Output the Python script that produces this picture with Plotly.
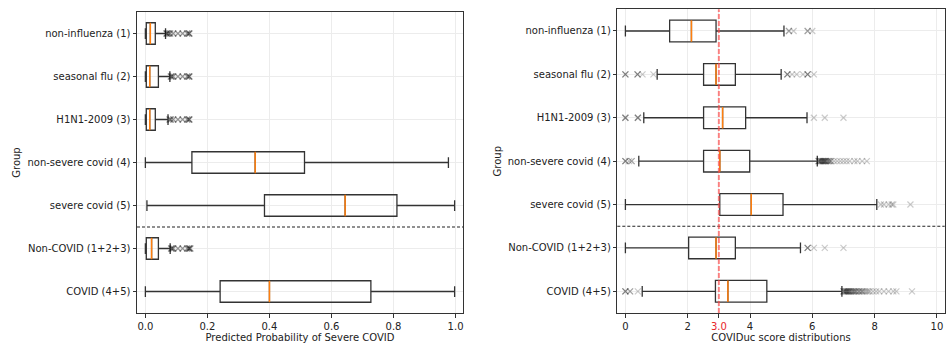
import plotly.graph_objects as go

groups = ["non-influenza (1)", "seasonal flu (2)", "H1N1-2009 (3)",
          "non-severe covid (4)", "severe covid (5)",
          "Non-COVID (1+2+3)", "COVID (4+5)"]
positions = [1, 2, 3, 4, 5, 6, 7]

# Left panel: predicted probability of severe COVID
prob_low = [0.0, 0.0, 0.0, 0.0, 0.005, 0.0, 0.0]
prob_q1 = [0.003, 0.003, 0.003, 0.150, 0.384, 0.003, 0.241]
prob_med = [0.016, 0.014, 0.014, 0.354, 0.644, 0.020, 0.400]
prob_q3 = [0.032, 0.042, 0.032, 0.513, 0.811, 0.042, 0.727]
prob_high = [0.065, 0.079, 0.073, 0.977, 0.997, 0.080, 0.997]
prob_outliers = [
    [0.068, 0.07, 0.075, 0.08, 0.09, 0.105, 0.12, 0.135, 0.14, 0.142],
    [0.082, 0.085, 0.09, 0.105, 0.12, 0.135, 0.14, 0.142],
    [0.078, 0.082, 0.09, 0.105, 0.12, 0.135, 0.14, 0.142],
    [], [],
    [0.083, 0.086, 0.09, 0.105, 0.12, 0.135, 0.14, 0.142, 0.145],
    [],
]

# Right panel: COVIDuc score distributions
score_low = [0.0, 1.02, 0.59, 0.43, 0.0, 0.0, 0.54]
score_q1 = [1.42, 2.51, 2.51, 2.51, 3.03, 2.03, 2.89]
score_med = [2.12, 2.91, 3.12, 3.03, 4.04, 2.91, 3.29]
score_q3 = [2.91, 3.53, 3.86, 3.99, 5.06, 3.53, 4.54]
score_high = [5.09, 5.00, 5.83, 6.16, 8.07, 5.62, 6.95]
score_outliers = [
    [5.25, 5.25, 5.4, 5.85, 5.85, 6.0],
    [0.0, 0.0, 0.0, 0.39, 0.39, 0.39, 0.55, 0.9, 5.2, 5.2, 5.2, 5.35, 5.5, 5.7, 5.85, 5.85, 5.85, 6.05],
    [0.0, 0.0, 0.0, 0.4, 0.4, 0.4, 6.05, 6.4, 7.0],
    [0.0, 0.0, 0.0, 0.12, 0.2, 0.2,
     6.2, 6.2, 6.22, 6.25, 6.25, 6.28, 6.3, 6.3, 6.33, 6.35, 6.35, 6.38, 6.4, 6.4, 6.42,
     6.45, 6.45, 6.5, 6.5, 6.55, 6.55, 6.6, 6.6, 6.7, 6.8, 6.9, 7.0, 7.1, 7.2, 7.35, 7.45, 7.6, 7.75],
    [8.2, 8.3, 8.45, 8.55, 8.6, 9.15],
    [5.85, 5.85, 5.85, 6.05, 6.4, 7.0],
    [0.0, 0.0, 0.0, 0.15, 0.15, 0.4,
     7.0, 7.0, 7.02, 7.05, 7.05, 7.08, 7.1, 7.1, 7.12, 7.15, 7.15, 7.18, 7.2, 7.2, 7.25, 7.25,
     7.3, 7.3, 7.35, 7.35, 7.4, 7.4, 7.45, 7.5, 7.5, 7.55, 7.6, 7.6, 7.65, 7.7, 7.75, 7.8,
     7.85, 7.95, 8.05, 8.15, 8.3, 8.45, 8.6, 8.7, 9.2],
]

score_threshold = 3.0
separator_position = 5.5

x_ticks_prob = [0.0, 0.2, 0.4, 0.6, 0.8, 1.0]
x_ticks_score = [0, 2, 3, 4, 6, 8, 10]
x_ticktext_score = ["0", "2", "<span style='color:#e8262a'>3.0</span>", "4", "6", "8", "10"]

FONT = "DejaVu Sans"
LINE = "#333333"
MEDIAN = "#ff7f0e"
FS = 10

fig = go.Figure()


def add_panel(xa, ya, low, q1, med, q3, high, outliers, opacity):
    fig.add_trace(go.Box(
        y=positions, q1=q1, median=med, q3=q3, lowerfence=low, upperfence=high,
        orientation="h", width=0.5, whiskerwidth=0.5,
        line=dict(color=LINE, width=1.3), fillcolor="rgba(0,0,0,0)",
        boxpoints=False, hoverinfo="skip", showlegend=False,
        xaxis=xa, yaxis=ya))
    fig.add_trace(go.Scatter(
        x=med, y=positions, mode="markers",
        marker=dict(symbol="line-ns", size=15.3, color=MEDIAN,
                    line=dict(color=MEDIAN, width=1.5)),
        showlegend=False, hoverinfo="skip", xaxis=xa, yaxis=ya))
    ox, oy = [], []
    for p, vals in zip(positions, outliers):
        for v in vals:
            ox.append(v)
            oy.append(p)
    fig.add_trace(go.Scatter(
        x=ox, y=oy, mode="markers",
        marker=dict(symbol="x-thin", size=6, color="black", opacity=opacity,
                    line=dict(color="black", width=1.2)),
        showlegend=False, hoverinfo="skip", xaxis=xa, yaxis=ya))


add_panel("x", "y", prob_low, prob_q1, prob_med, prob_q3, prob_high, prob_outliers, 0.4)
add_panel("x2", "y2", score_low, score_q1, score_med, score_q3, score_high, score_outliers, 0.2)

axis_common = dict(showline=True, mirror=True, linecolor="#333333", linewidth=1,
                   ticks="outside", ticklen=3.5, tickcolor="#333333", automargin=False,
                   showgrid=True, gridcolor="#ececec", gridwidth=1, zeroline=False,
                   tickfont=dict(family=FONT, size=FS, color="#222222"))

W, H = 948, 346
fig.update_layout(
    width=W, height=H, margin=dict(l=0, r=0, t=0, b=0),
    paper_bgcolor="white", plot_bgcolor="white",
    font=dict(family=FONT, size=FS, color="#222222"),
    xaxis=dict(domain=[137 / W, 463 / W], anchor="y", range=[-0.027, 1.024],
               tickvals=x_ticks_prob, tickformat=".1f",
               title=dict(text="Predicted Probability of Severe COVID", standoff=3,
                          font=dict(family=FONT, size=FS)), **axis_common),
    yaxis=dict(domain=[(H - 313) / H, (H - 12) / H], anchor="x", range=[7.5, 0.5],
               tickvals=positions, ticktext=groups,
               title=dict(text="Group", standoff=4, font=dict(family=FONT, size=FS)),
               **axis_common),
    xaxis2=dict(domain=[617.3 / W, 944.7 / W], anchor="y2", range=[-0.26, 10.25],
                tickvals=x_ticks_score, ticktext=x_ticktext_score,
                title=dict(text="COVIDuc score distributions", standoff=3,
                           font=dict(family=FONT, size=FS)), **axis_common),
    yaxis2=dict(domain=[(H - 313) / H, (H - 9.3) / H], anchor="x2", range=[7.5, 0.5],
                tickvals=positions, ticktext=groups,
                title=dict(text="Group", standoff=4, font=dict(family=FONT, size=FS)),
                **axis_common),
)

# separator lines between individual groups and pooled groups
for xa, ya in (("x", "y"), ("x2", "y2")):
    fig.add_shape(type="line", xref=f"{xa} domain", yref=ya,
                  x0=0, x1=1, y0=separator_position, y1=separator_position,
                  line=dict(color="#222222", width=1.2, dash="3px,2px"))

# threshold line on score panel
fig.add_shape(type="line", xref="x2", yref="y2 domain",
              x0=score_threshold, x1=score_threshold, y0=0, y1=1,
              line=dict(color="rgba(255,70,70,0.65)", width=2, dash="5px,2px"))

fig.write_html("out.html", config={"displayModeBar": False},
               post_script="document.body.style.margin='0';document.body.style.overflow='hidden';")
